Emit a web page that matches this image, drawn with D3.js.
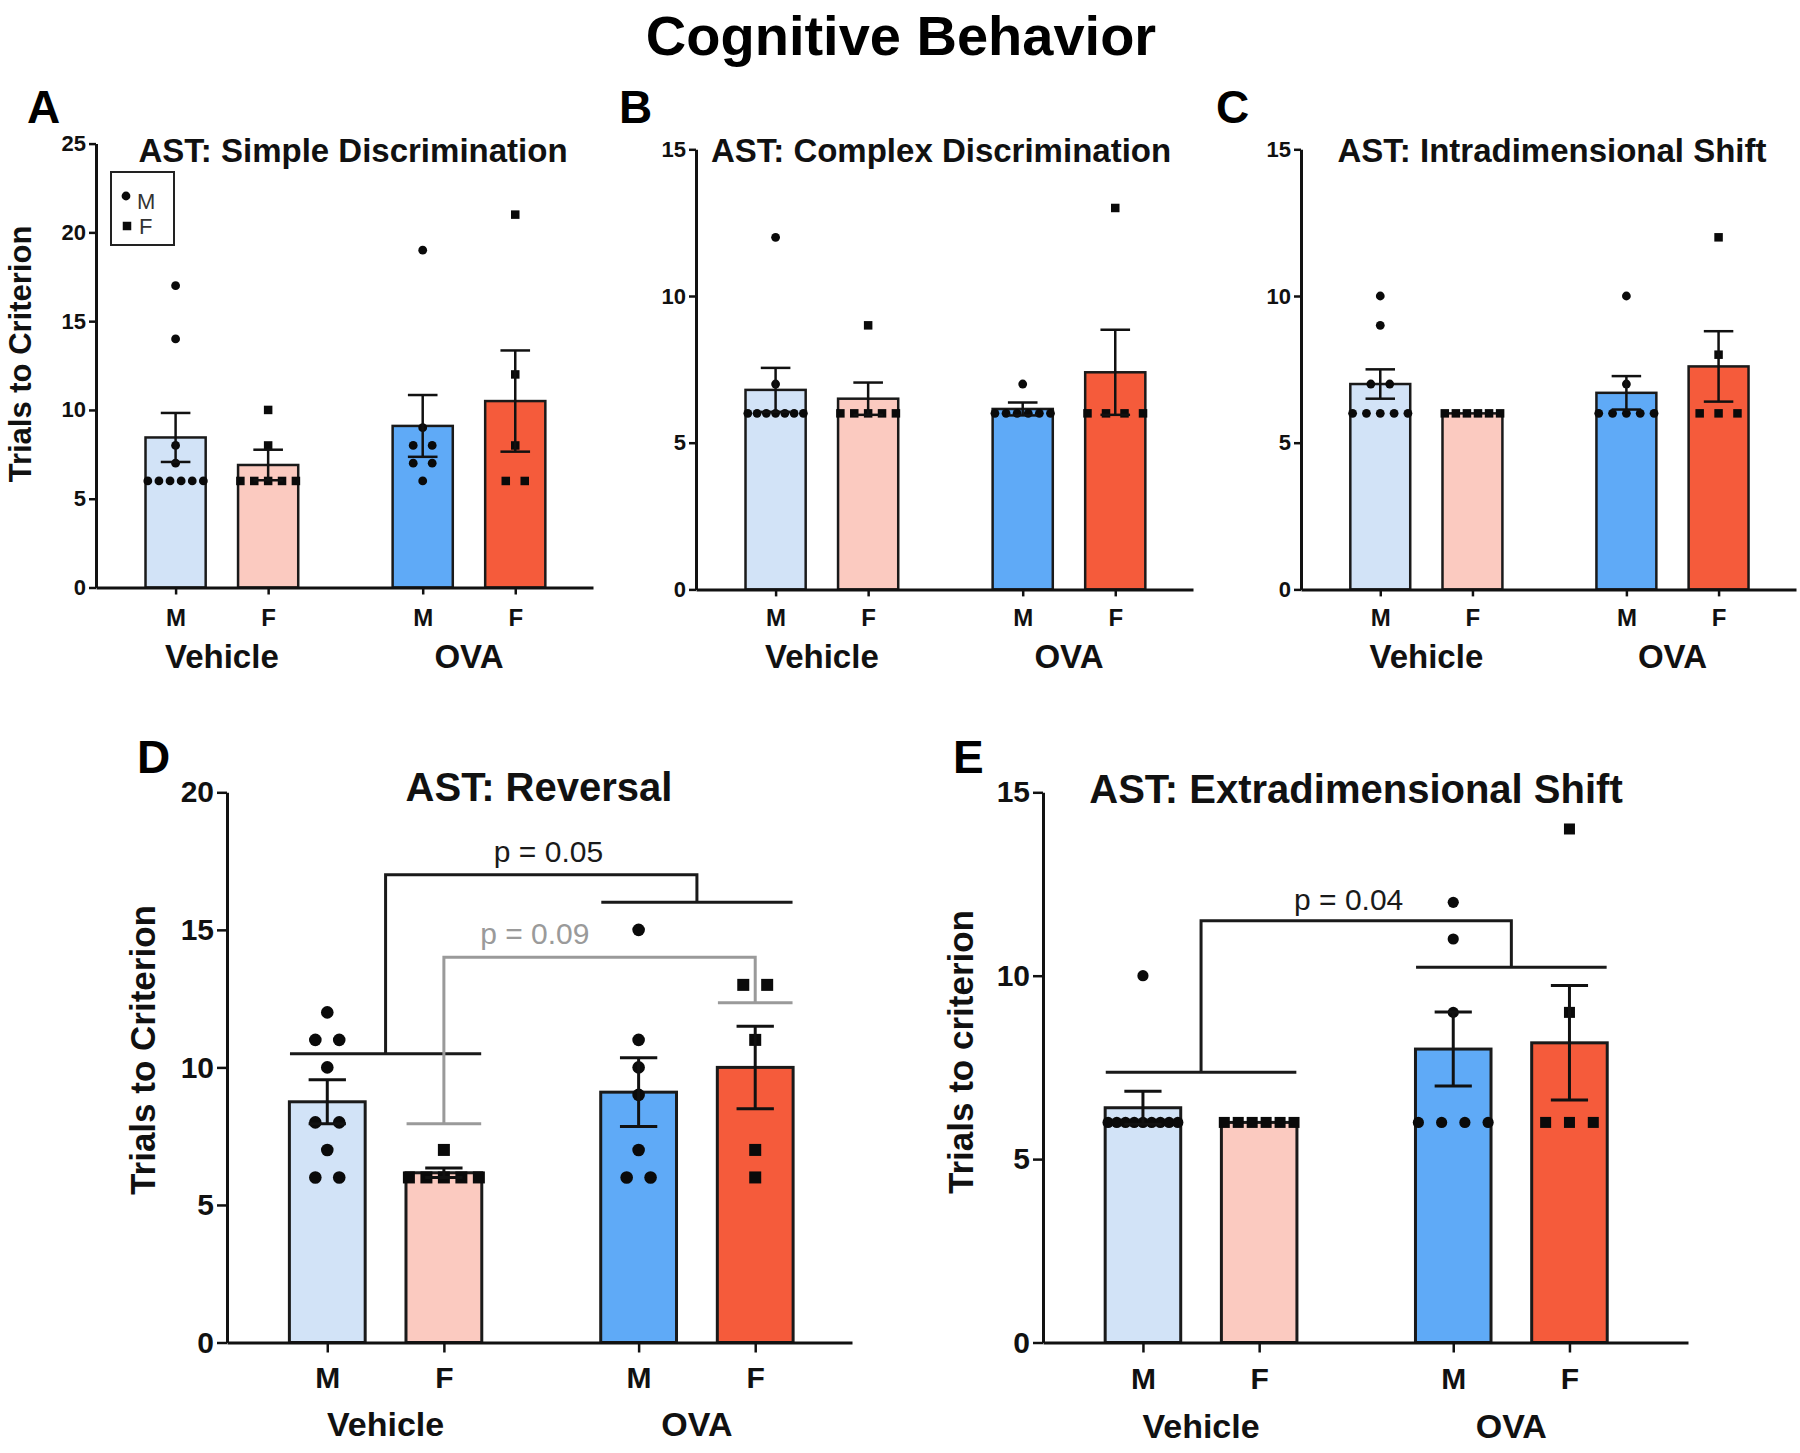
<!DOCTYPE html>
<html><head><meta charset="utf-8">
<script src="https://cdn.jsdelivr.net/npm/d3@7"></script>
<style>
body{margin:0;background:#fff}
svg{display:block}
text{font-family:"Liberation Sans",Arial,Helvetica,sans-serif}
</style>
</head><body>
<svg id="chart" width="1800" height="1453"></svg>
<script>
// ---------------- DATA ----------------
const groupNames = ["Vehicle M", "Vehicle F", "OVA M", "OVA F"];
const sexLabels = ["M", "F", "M", "F"];
const treatmentLabels = ["Vehicle", "OVA"];
const treatmentMembers = [[0, 1], [2, 3]];

// A: Simple Discrimination
const simpleTicks = [0, 5, 10, 15, 20, 25];
const simpleMean = [8.45, 6.9, 9.1, 10.5];
const simpleSem = [1.38, 0.86, 1.74, 2.85];
const simplePoints = [[17, 14, 8, 7, 6, 6, 6, 6, 6, 6], [10, 8, 6, 6, 6, 6, 6], [19, 9, 8, 8, 7, 7, 6], [21, 12, 8, 6, 6]];

// B: Complex Discrimination
const complexTicks = [0, 5, 10, 15];
const complexMean = [6.8, 6.5, 6.15, 7.4];
const complexSem = [0.75, 0.55, 0.22, 1.45];
const complexPoints = [[12, 7, 6, 6, 6, 6, 6, 6, 6], [9, 6, 6, 6, 6, 6], [7, 6, 6, 6, 6, 6, 6], [13, 6, 6, 6, 6]];

// C: Intradimensional Shift
const intraTicks = [0, 5, 10, 15];
const intraMean = [7.0, 6.0, 6.7, 7.6];
const intraSem = [0.5, 0, 0.57, 1.2];
const intraPoints = [[10, 9, 7, 7, 6, 6, 6, 6, 6], [6, 6, 6, 6, 6, 6], [10, 7, 6, 6, 6, 6, 6], [12, 8, 6, 6, 6]];

// D: Reversal
const reversalTicks = [0, 5, 10, 15, 20];
const reversalMean = [8.75, 6.17, 9.1, 10.0];
const reversalSem = [0.8, 0.17, 1.25, 1.5];
const reversalPoints = [[12, 11, 11, 10, 8, 8, 7, 6, 6], [7, 6, 6, 6, 6, 6], [15, 11, 10, 9, 7, 6, 6], [13, 13, 11, 7, 6]];
const reversalBrackets = [
  {left: [0, 1], right: [2, 3], yLeft: 10.5, yRight: 16, yTop: 17, label: "p = 0.05", labelX: 2.757, labelY: 17.45, color: "#1a1a1a"},
  {left: [1], right: [3], yLeft: 7.95, yRight: 12.35, yTop: 14.0, label: "p = 0.09", labelX: 2.64, labelY: 14.47, color: "#9a9a9a"}
];

// E: Extradimensional Shift
const extraTicks = [0, 5, 10, 15];
const extraMean = [6.4, 6.0, 8.0, 8.17];
const extraSem = [0.45, 0, 1.01, 1.56];
const extraPoints = [[10, 6, 6, 6, 6, 6, 6, 6, 6, 6], [6, 6, 6, 6, 6, 6], [12, 11, 9, 6, 6, 6, 6], [14, 9, 6, 6, 6]];
const extraBrackets = [
  {left: [0, 1], right: [2, 3], yLeft: 7.37, yRight: 10.23, yTop: 11.5, label: "p = 0.04", labelX: 2.63, labelY: 11.78, color: "#1a1a1a"}
];

// ---------------- STYLE / LAYOUT ----------------
const fills = ["#d2e3f7", "#fbcac0", "#5faaf7", "#f55b3b"];
const slotPos = [0.86, 1.86, 3.53, 4.53];
const barWidthUnits = 0.65;
const capUnits = 0.32;
const lineExt = 0.32;

const panels = [
  {letter: "A", letterX: 27, letterY: 123, title: "AST: Simple Discrimination", titleX: 353, titleY: 162, titleFs: 33,
   x0: 96, x1: 593, xMax: 5.37, yBottom: 587.5, yTopPx: 143.6, yMax: 25, ticks: simpleTicks,
   mean: simpleMean, sem: simpleSem, points: simplePoints, brackets: [],
   tickFs: 22, tickSize: 7, sexFs: 24, sexPad: 14, groupY: 668, groupFs: 33,
   yTitle: "Trials to Criterion", yTitleX: 31, yTitleY: 354, yTitleFs: 31, r: 4.4, sq: 8.5, lw: 2.5, legend: true},
  {letter: "B", letterX: 619, letterY: 123, title: "AST: Complex Discrimination", titleX: 941, titleY: 162, titleFs: 33,
   x0: 696, x1: 1193, xMax: 5.37, yBottom: 589.4, yTopPx: 149.3, yMax: 15, ticks: complexTicks,
   mean: complexMean, sem: complexSem, points: complexPoints, brackets: [],
   tickFs: 22, tickSize: 7, sexFs: 24, sexPad: 13, groupY: 668, groupFs: 33,
   yTitle: null, r: 4.4, sq: 8.5, lw: 2.5},
  {letter: "C", letterX: 1216, letterY: 123, title: "AST: Intradimensional Shift", titleX: 1552, titleY: 162, titleFs: 33,
   x0: 1301, x1: 1796, xMax: 5.37, yBottom: 589.4, yTopPx: 149.3, yMax: 15, ticks: intraTicks,
   mean: intraMean, sem: intraSem, points: intraPoints, brackets: [],
   tickFs: 22, tickSize: 7, sexFs: 24, sexPad: 13, groupY: 668, groupFs: 33,
   yTitle: null, r: 4.4, sq: 8.5, lw: 2.5},
  {letter: "D", letterX: 137, letterY: 773, title: "AST: Reversal", titleX: 539, titleY: 801, titleFs: 40,
   x0: 227, x1: 852, xMax: 5.36, yBottom: 1342.5, yTopPx: 792.3, yMax: 20, ticks: reversalTicks,
   mean: reversalMean, sem: reversalSem, points: reversalPoints, brackets: reversalBrackets,
   tickFs: 30, tickSize: 10, sexFs: 30, sexPad: 14, groupY: 1436, groupFs: 34,
   yTitle: "Trials to Criterion", yTitleX: 155, yTitleY: 1050, yTitleFs: 35, r: 6.3, sq: 12, lw: 3},
  {letter: "E", letterX: 953, letterY: 773, title: "AST: Extradimensional Shift", titleX: 1356, titleY: 803, titleFs: 40,
   x0: 1043, x1: 1688, xMax: 5.55, yBottom: 1342.5, yTopPx: 792.3, yMax: 15, ticks: extraTicks,
   mean: extraMean, sem: extraSem, points: extraPoints, brackets: extraBrackets,
   tickFs: 30, tickSize: 10, sexFs: 30, sexPad: 15, groupY: 1438, groupFs: 34,
   yTitle: "Trials to criterion", yTitleX: 973, yTitleY: 1052, yTitleFs: 35, r: 5.6, sq: 11, lw: 3}
];

// ---------------- DRAW ----------------
const svg = d3.select("#chart");
svg.append("rect").attr("width", 1800).attr("height", 1453).attr("fill", "#fff");

svg.append("text").attr("x", 901).attr("y", 55).attr("text-anchor", "middle")
  .attr("font-size", 56).attr("font-weight", "bold").attr("fill", "#000").text("Cognitive Behavior");

function spreadPoints(vals) {
  const counts = d3.rollup(vals, v => v.length, d => d);
  const seen = new Map();
  return vals.map(v => {
    const k = counts.get(v);
    const j = seen.get(v) || 0;
    seen.set(v, j + 1);
    const spacing = k > 1 ? Math.min(0.205, 0.6 / (k - 1)) : 0;
    return {v, off: (j - (k - 1) / 2) * spacing};
  });
}

panels.forEach(p => {
  const g = svg.append("g");
  const x = d3.scaleLinear().domain([0, p.xMax]).range([p.x0, p.x1]);
  const y = d3.scaleLinear().domain([0, p.yMax]).range([p.yBottom, p.yTopPx]);
  const unit = x(1) - x(0);
  const bw = barWidthUnits * unit;

  // bars
  g.selectAll("rect.bar").data(p.mean).join("rect").attr("class", "bar")
    .attr("x", (d, i) => x(slotPos[i]) - bw / 2)
    .attr("y", d => y(d))
    .attr("width", bw)
    .attr("height", d => y(0) - y(d))
    .attr("fill", (d, i) => fills[i])
    .attr("stroke", "#1a1a1a").attr("stroke-width", p.lw);

  // individual points
  p.points.forEach((vals, i) => {
    const pts = spreadPoints(vals);
    const isM = sexLabels[i] === "M";
    const pg = g.append("g").attr("fill", "#0a0a0a");
    if (isM) {
      pg.selectAll("circle").data(pts).join("circle")
        .attr("cx", d => x(slotPos[i] + d.off)).attr("cy", d => y(d.v)).attr("r", p.r);
    } else {
      pg.selectAll("rect").data(pts).join("rect")
        .attr("x", d => x(slotPos[i] + d.off) - p.sq / 2).attr("y", d => y(d.v) - p.sq / 2)
        .attr("width", p.sq).attr("height", p.sq);
    }
  });

  // error bars (mean ± SEM)
  const cap = capUnits * unit;
  p.mean.forEach((m, i) => {
    const s = p.sem[i];
    if (!s) return;
    const cx = x(slotPos[i]);
    const eg = g.append("g").attr("stroke", "#111").attr("stroke-width", p.lw).attr("fill", "none");
    eg.append("line").attr("x1", cx).attr("x2", cx).attr("y1", y(m - s)).attr("y2", y(m + s));
    eg.append("line").attr("x1", cx - cap / 2).attr("x2", cx + cap / 2).attr("y1", y(m + s)).attr("y2", y(m + s));
    eg.append("line").attr("x1", cx - cap / 2).attr("x2", cx + cap / 2).attr("y1", y(m - s)).attr("y2", y(m - s));
  });

  // y axis
  const ya = g.append("g").attr("transform", `translate(${p.x0},0)`)
    .call(d3.axisLeft(y).tickValues(p.ticks).tickFormat(d3.format("d")).tickSize(p.tickSize).tickSizeOuter(0).tickPadding(3));
  ya.select(".domain").attr("stroke", "#111").attr("stroke-width", 3);
  ya.selectAll(".tick line").attr("stroke", "#111").attr("stroke-width", 2.5);
  ya.selectAll(".tick text").attr("font-size", p.tickFs).attr("font-weight", "bold").attr("fill", "#111")
    .attr("font-family", "'Liberation Sans', Arial, sans-serif");

  // x axis
  const xa = g.append("g").attr("transform", `translate(0,${p.yBottom})`)
    .call(d3.axisBottom(x).tickValues(slotPos).tickFormat((d, i) => sexLabels[i]).tickSize(p.tickSize).tickSizeOuter(0).tickPadding(p.sexPad));
  xa.select(".domain").attr("stroke", "#111").attr("stroke-width", 3);
  xa.selectAll(".tick line").attr("stroke", "#111").attr("stroke-width", 2.5);
  xa.selectAll(".tick text").attr("font-size", p.sexFs).attr("font-weight", "bold").attr("fill", "#111")
    .attr("font-family", "'Liberation Sans', Arial, sans-serif");

  // treatment labels
  treatmentLabels.forEach((t, k) => {
    const cx = d3.mean(treatmentMembers[k], i => x(slotPos[i]));
    g.append("text").attr("x", cx).attr("y", p.groupY).attr("text-anchor", "middle")
      .attr("font-size", p.groupFs).attr("font-weight", "bold").attr("fill", "#111").text(t);
  });

  // title
  g.append("text").attr("x", p.titleX).attr("y", p.titleY).attr("text-anchor", "middle")
    .attr("font-size", p.titleFs).attr("font-weight", "bold").attr("fill", "#111").text(p.title);

  // panel letter
  g.append("text").attr("x", p.letterX).attr("y", p.letterY)
    .attr("font-size", 46).attr("font-weight", "bold").attr("fill", "#000").text(p.letter);

  // y title
  if (p.yTitle) {
    g.append("text").attr("transform", `translate(${p.yTitleX},${p.yTitleY}) rotate(-90)`)
      .attr("text-anchor", "middle").attr("font-size", p.yTitleFs).attr("font-weight", "bold")
      .attr("fill", "#111").text(p.yTitle);
  }

  // significance brackets
  p.brackets.forEach(b => {
    const lx1 = x(slotPos[b.left[0]] - lineExt), lx2 = x(slotPos[b.left[b.left.length - 1]] + lineExt);
    const rx1 = x(slotPos[b.right[0]] - lineExt), rx2 = x(slotPos[b.right[b.right.length - 1]] + lineExt);
    const lm = (lx1 + lx2) / 2, rm = (rx1 + rx2) / 2;
    const path = d3.path();
    path.moveTo(lx1, y(b.yLeft)); path.lineTo(lx2, y(b.yLeft));
    path.moveTo(lm, y(b.yLeft)); path.lineTo(lm, y(b.yTop)); path.lineTo(rm, y(b.yTop)); path.lineTo(rm, y(b.yRight));
    path.moveTo(rx1, y(b.yRight)); path.lineTo(rx2, y(b.yRight));
    g.append("path").attr("d", path.toString()).attr("fill", "none")
      .attr("stroke", b.color).attr("stroke-width", 3);
    g.append("text").attr("x", x(b.labelX)).attr("y", y(b.labelY)).attr("text-anchor", "middle")
      .attr("font-size", 30).attr("fill", b.color).text(b.label);
  });

  // legend (panel A)
  if (p.legend) {
    const lg = g.append("g");
    lg.append("rect").attr("x", 111).attr("y", 172).attr("width", 63).attr("height", 73)
      .attr("fill", "#fff").attr("stroke", "#222").attr("stroke-width", 2);
    lg.append("circle").attr("cx", 126).attr("cy", 196).attr("r", p.r).attr("fill", "#0a0a0a");
    lg.append("text").attr("x", 137).attr("y", 209).attr("font-size", 22).attr("fill", "#333").text("M");
    lg.append("rect").attr("x", 127 - p.sq / 2).attr("y", 226 - p.sq / 2).attr("width", p.sq).attr("height", p.sq).attr("fill", "#0a0a0a");
    lg.append("text").attr("x", 139).attr("y", 234).attr("font-size", 22).attr("fill", "#333").text("F");
  }
});
</script>
</body></html>
